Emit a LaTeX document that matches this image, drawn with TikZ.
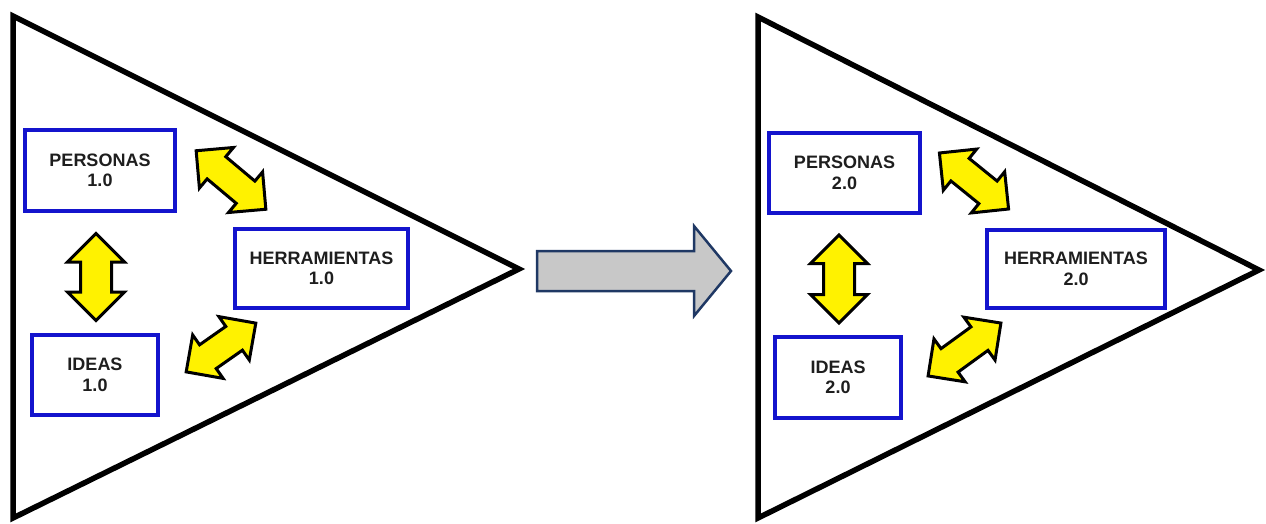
\documentclass[tikz,border=0pt]{standalone}
\usepackage{fontspec}
\setmainfont{Liberation Sans}
\usetikzlibrary{shapes.arrows}
\definecolor{boxblue}{RGB}{20,20,205}
\definecolor{labelink}{RGB}{30,30,30}
\definecolor{flowgray}{RGB}{200,200,200}
\definecolor{flowedge}{RGB}{31,56,100}
\begin{document}
\begin{tikzpicture}[x=1pt,y=-1pt,
  funnel/.style={draw=black,line width=5.5pt,line join=miter,fill=white},
  conceptbox/.style={rectangle,draw=boxblue,line width=4pt,fill=white,
    inner sep=0pt,align=center,text=labelink,
    font=\bfseries\fontsize{18}{20.5}\selectfont},
  linkarrow/.style={double arrow,draw=black,line width=3pt,line join=miter,
    fill=yellow,inner xsep=0pt,inner ysep=14pt,
    double arrow head extend=13pt,minimum width=1pt},
  slimarrow/.style={linkarrow,inner ysep=13pt,double arrow head extend=12pt}]
\useasboundingbox (0,0) rectangle (1266,524);

% ---- stage 1.0 ----
\draw[funnel] (13,16) -- (519,269) -- (13,518) -- cycle;
\node[conceptbox,minimum width=150pt,minimum height=81pt] (p1) at (100,170.5) {PERSONAS\\1.0};
\node[conceptbox,minimum width=173pt,minimum height=79pt] (h1) at (321.5,268.5) {HERRAMIENTAS\\1.0};
\node[conceptbox,minimum width=126pt,minimum height=80pt] (i1) at (95,375) {IDEAS\\1.0};
\node[linkarrow,minimum height=87pt,rotate=90] (pi1) at (96,277) {};
\node[slimarrow,minimum height=91pt,rotate=-40] (ph1) at (231,180) {};
\node[slimarrow,minimum height=85pt,rotate=35] (ih1) at (221,347.5) {};

% ---- transition ----
\draw[draw=flowedge,line width=2.5pt,fill=flowgray,line join=miter]
  (537,251) -- (694,251) -- (694,226) -- (731,271) -- (694,316) -- (694,291) -- (537,291) -- cycle;

% ---- stage 2.0 ----
\draw[funnel] (758,17) -- (1259,270) -- (758,518) -- cycle;
\node[conceptbox,minimum width=151pt,minimum height=80pt] (p2) at (844.5,173) {PERSONAS\\2.0};
\node[conceptbox,minimum width=178pt,minimum height=78pt] (h2) at (1076,269) {HERRAMIENTAS\\2.0};
\node[conceptbox,minimum width=126pt,minimum height=81pt] (i2) at (838,377.5) {IDEAS\\2.0};
\node[linkarrow,minimum height=88pt,rotate=90] (pi2) at (839,279) {};
\node[slimarrow,minimum height=89pt,rotate=-39] (ph2) at (974,181) {};
\node[slimarrow,minimum height=90pt,rotate=36] (ih2) at (964.5,349.5) {};
\end{tikzpicture}
\end{document}
